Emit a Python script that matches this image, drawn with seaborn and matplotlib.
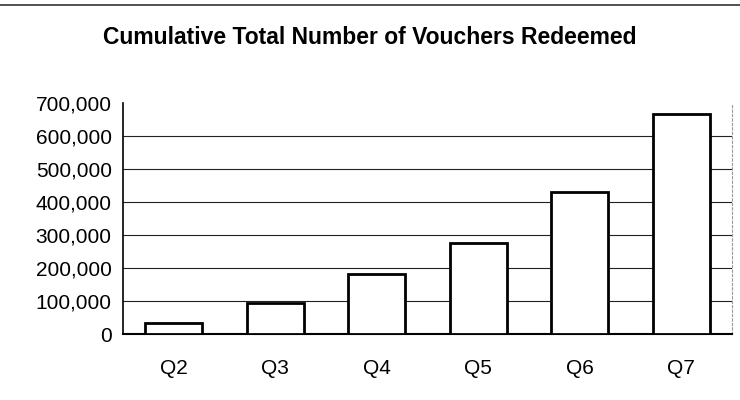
import numpy as np
import pandas as pd
import seaborn as sns
import matplotlib.pyplot as plt
from matplotlib.ticker import FuncFormatter

# Datos
quarters = ["Q2", "Q3", "Q4", "Q5", "Q6", "Q7"]
vouchers = [34000, 94000, 183000, 276000, 430000, 665000]

df = pd.DataFrame({"Quarter": quarters, "Vouchers": vouchers})

sns.set_theme(style="white")
plt.rcParams["font.family"] = ["Liberation Sans", "DejaVu Sans"]
plt.rcParams["text.color"] = "black"
plt.rcParams["xtick.color"] = "black"
plt.rcParams["ytick.color"] = "black"

fig = plt.figure(figsize=(7.4, 4), dpi=100)
ax = fig.add_axes([0.166, 0.165, 0.823, 0.578])

sns.barplot(data=df, x="Quarter", y="Vouchers", color="white",
            edgecolor="black", linewidth=2, width=0.56, ax=ax, zorder=3)

# Ejes y cuadrícula
ax.set_ylim(0, 700000)
ax.set_xlim(-0.5, 5.5)
ax.set_yticks(np.arange(0, 700001, 100000))
ax.yaxis.set_major_formatter(FuncFormatter(lambda v, p: f"{int(v):,}"))
ax.yaxis.grid(True, color="#222222", linewidth=0.8)
ax.set_axisbelow(True)
# sin línea de cuadrícula en 700,000
ax.get_ygridlines()[-1].set_visible(False)

ax.set_xticks(np.arange(-0.5, 6, 1), minor=True)
ax.tick_params(axis="x", which="major", length=0, pad=18, labelsize=15)
ax.tick_params(axis="x", which="minor", length=5, width=1, color="black", direction="out")
ax.tick_params(axis="y", length=5, width=1, color="black", direction="out", labelsize=15, pad=3)

ax.spines["top"].set_visible(False)
ax.spines["right"].set_color("#999999")
ax.spines["right"].set_linestyle((0, (2, 2)))
ax.spines["right"].set_linewidth(0.8)
ax.spines["left"].set_color("black")
ax.spines["bottom"].set_color("black")
ax.spines["left"].set_linewidth(1.2)
ax.spines["bottom"].set_linewidth(1.5)

ax.set_xlabel("")
ax.set_ylabel("")

fig.text(0.5, 0.905, "Cumulative Total Number of Vouchers Redeemed",
         ha="center", va="center", fontsize=16.5, fontweight="bold")

# Línea superior del marco escaneado
fig.add_artist(plt.Line2D([0, 1], [0.987, 0.987], color="#333333", linewidth=1.2))

plt.savefig("out.png", dpi=100, facecolor="white")
